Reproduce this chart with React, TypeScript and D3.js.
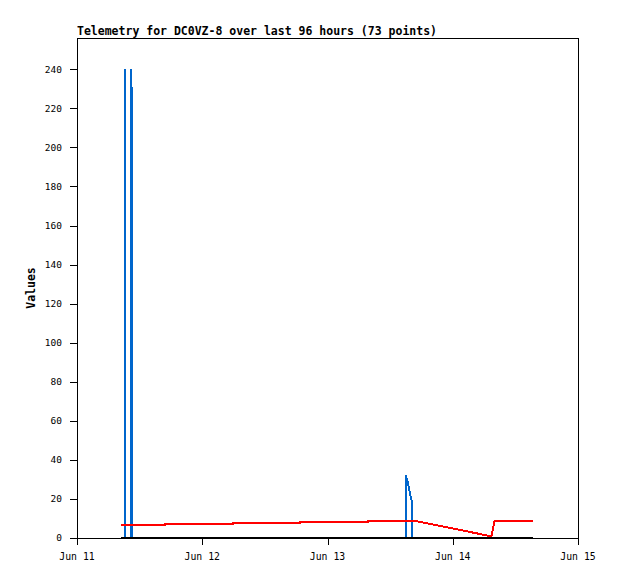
import React from "react";
import * as d3 from "d3";

const TITLE = "Telemetry for DC0VZ-8 over last 96 hours (73 points)";
const Y_LABEL = "Values";

const xDomain = ["2024-06-11T00:00Z", "2024-06-15T00:00Z"];
const xTickDates = ["2024-06-11T00:00Z", "2024-06-12T00:00Z", "2024-06-13T00:00Z", "2024-06-14T00:00Z", "2024-06-15T00:00Z"];
const yTicks = [0, 20, 40, 60, 80, 100, 120, 140, 160, 180, 200, 220, 240];

const blueTimes = [
  "2024-06-11T08:26Z", "2024-06-11T09:10Z", "2024-06-11T09:11Z", "2024-06-11T09:12Z",
  "2024-06-11T10:19Z", "2024-06-11T10:20Z", "2024-06-11T10:31Z", "2024-06-11T10:32Z",
  "2024-06-13T15:01Z", "2024-06-13T15:02Z", "2024-06-13T15:25Z", "2024-06-13T15:48Z",
  "2024-06-13T16:10Z", "2024-06-13T16:11Z", "2024-06-14T15:17Z",
];
const blueValues = [0, 0, 240, 0, 0, 240, 225, 0, 0, 32, 28, 23, 18.5, 0, 0];

const redTimes = [
  "2024-06-11T08:26Z", "2024-06-11T16:52Z", "2024-06-11T16:53Z", "2024-06-12T05:54Z",
  "2024-06-12T05:55Z", "2024-06-12T18:44Z", "2024-06-12T18:45Z", "2024-06-13T07:46Z",
  "2024-06-13T07:47Z", "2024-06-13T16:46Z", "2024-06-14T07:08Z", "2024-06-14T07:25Z",
  "2024-06-14T08:00Z", "2024-06-14T15:17Z",
];
const redValues = [6.8, 6.8, 7.3, 7.3, 7.8, 7.8, 8.3, 8.3, 8.8, 8.8, 1.0, 0.9, 8.8, 8.8];

const blackTimes = ["2024-06-11T08:26Z", "2024-06-14T15:17Z"];
const blackValues = [0, 0];

const W = 618;
const H = 579;
const M = { left: 77, right: 578, top: 38, bottom: 538 };
const MONO = "'DejaVu Sans Mono', 'Liberation Mono', monospace";

export default function App() {
  const x = d3.scaleUtc().domain(xDomain.map((d) => new Date(d))).range([M.left, M.right]);
  const y = d3.scaleLinear().domain([0, 256]).range([M.bottom, M.top]);
  const fmt = d3.utcFormat("%b %d");

  const mk = (times: string[], vals: number[]) =>
    times.map((t, i) => ({ t: new Date(t), v: vals[i] }));
  const line = d3
    .line<{ t: Date; v: number }>()
    .x((d) => x(d.t))
    .y((d) => y(d.v));

  return (
    <div style={{ position: "fixed", left: 0, top: 0 }}>
      <svg width={W} height={H} style={{ display: "block", background: "#fff" }}>
        <rect x={0} y={0} width={W} height={H} fill="#fff" />
        <text x={M.left} y={35} fontFamily={MONO} fontWeight="bold" fontSize={11.5} fill="#000">
          {TITLE}
        </text>
        <text
          transform={`translate(35,${(M.top + M.bottom) / 2}) rotate(-90)`}
          textAnchor="middle"
          fontFamily={MONO}
          fontWeight="bold"
          fontSize={11.5}
          fill="#000"
        >
          {Y_LABEL}
        </text>
        <g shapeRendering="crispEdges">
          <path d={line(mk(blueTimes, blueValues)) || ""} fill="none" stroke="#0066cc" strokeWidth={2} />
          <path d={line(mk(redTimes, redValues)) || ""} fill="none" stroke="#ff0000" strokeWidth={2} />
          <path d={line(mk(blackTimes, blackValues)) || ""} fill="none" stroke="#000" strokeWidth={2.5} />
          <rect
            x={M.left + 0.5}
            y={M.top + 0.5}
            width={M.right - M.left}
            height={M.bottom - M.top}
            fill="none"
            stroke="#000"
            strokeWidth={1}
          />
          {yTicks.map((t) => (
            <line key={t} x1={M.left - 7} x2={M.left} y1={Math.round(y(t)) + 0.5} y2={Math.round(y(t)) + 0.5} stroke="#000" />
          ))}
          {xTickDates.map((d) => (
            <line key={d} x1={Math.round(x(new Date(d))) + 0.5} x2={Math.round(x(new Date(d))) + 0.5} y1={M.bottom} y2={M.bottom + 7} stroke="#000" />
          ))}
        </g>
        {yTicks.map((t) => (
          <text key={t} x={62} y={y(t)} dy="0.35em" textAnchor="end" fontFamily={MONO} fontSize={9.5} fill="#000">
            {t}
          </text>
        ))}
        {xTickDates.map((d) => (
          <text key={d} x={x(new Date(d))} y={560} textAnchor="middle" fontFamily={MONO} fontSize={9.8} fill="#000">
            {fmt(new Date(d))}
          </text>
        ))}
      </svg>
    </div>
  );
}
